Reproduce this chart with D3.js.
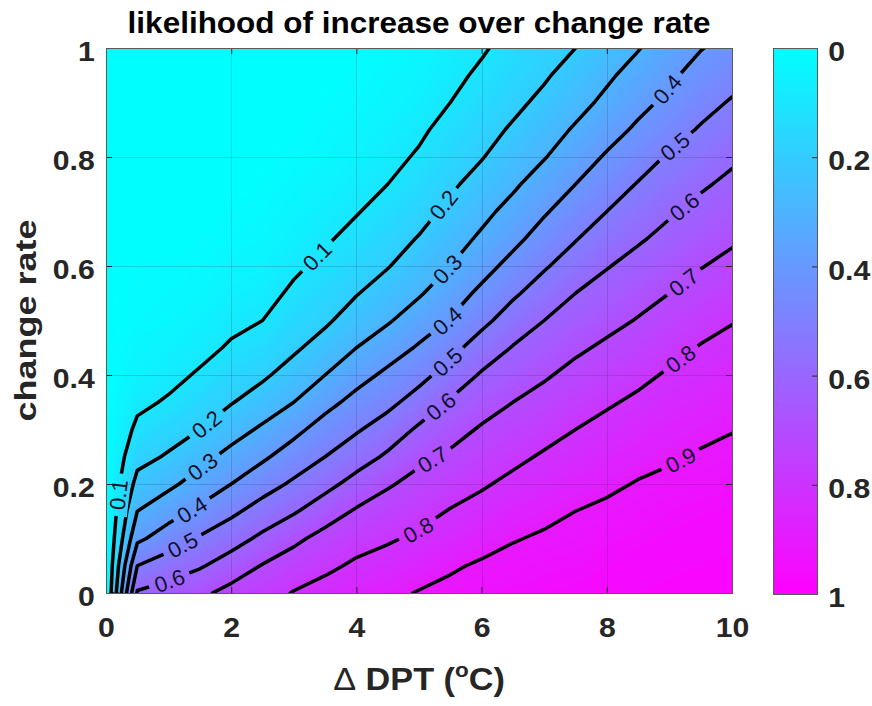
<!DOCTYPE html>
<meta charset="utf-8">
<title>likelihood of increase over change rate</title>
<style>
  body { margin: 0; background: #fff; }
  svg { display: block; font-family: "Liberation Sans", Arial, sans-serif; }
</style>
<body>
<script src="https://d3js.org/d3.v7.min.js"></script>
<script>
const width = 872;
const height = 706;

// grid axes: ΔDPT columns, change-rate rows
const dptValues = [0, 0.5, 1, 1.5, 2, 2.5, 3, 3.5, 4, 4.5, 5, 5.5, 6, 6.5, 7, 7.5, 8, 8.5, 9, 9.5, 10];
const rateValues = [0, 0.05, 0.1, 0.15, 0.2, 0.25, 0.3, 0.35, 0.4, 0.45, 0.5,
                    0.55, 0.6, 0.65, 0.7, 0.75, 0.8, 0.85, 0.9, 0.95, 1];

// likelihood, one row per ΔDPT column, listed from change rate 0 up to 1
const likelihood = [
  [0,0,0,0,0,0,0,0,0,0,0,0,0,0,0,0,0,0,0,0,0],
  [0.61,0.50,0.38,0.30,0.23,0.17,0.12,0.08,0.05,0.035,0.02,0.015,0.01,0.005,0,0,0,0,0,0,0],
  [0.64,0.55,0.45,0.36,0.28,0.21,0.16,0.11,0.075,0.05,0.03,0.02,0.01,0.005,0,0,0,0,0,0,0],
  [0.68,0.59,0.51,0.42,0.34,0.27,0.20,0.155,0.11,0.075,0.05,0.03,0.02,0.01,0.005,0,0,0,0,0,0],
  [0.73,0.645,0.56,0.48,0.40,0.33,0.26,0.195,0.155,0.11,0.08,0.055,0.035,0.02,0.01,0.005,0,0,0,0,0],
  [0.76,0.705,0.62,0.54,0.46,0.385,0.315,0.245,0.185,0.14,0.10,0.07,0.045,0.03,0.02,0.01,0.005,0,0,0,0],
  [0.805,0.745,0.68,0.59,0.515,0.445,0.375,0.30,0.24,0.185,0.15,0.115,0.085,0.06,0.04,0.025,0.015,0.008,0.004,0,0],
  [0.835,0.78,0.73,0.655,0.57,0.50,0.44,0.37,0.30,0.24,0.185,0.155,0.12,0.09,0.065,0.045,0.03,0.02,0.01,0.005,0],
  [0.86,0.815,0.765,0.71,0.635,0.555,0.49,0.43,0.365,0.30,0.245,0.195,0.16,0.125,0.095,0.07,0.05,0.035,0.02,0.012,0.006],
  [0.88,0.835,0.79,0.745,0.69,0.615,0.545,0.475,0.42,0.355,0.29,0.245,0.195,0.165,0.13,0.10,0.075,0.055,0.04,0.028,0.018],
  [0.905,0.86,0.815,0.77,0.73,0.68,0.615,0.54,0.47,0.41,0.35,0.29,0.25,0.205,0.17,0.14,0.11,0.085,0.06,0.045,0.03],
  [0.92,0.89,0.845,0.805,0.76,0.715,0.665,0.61,0.54,0.47,0.405,0.355,0.30,0.26,0.22,0.185,0.155,0.13,0.10,0.078,0.06],
  [0.935,0.91,0.87,0.83,0.79,0.75,0.71,0.66,0.61,0.545,0.475,0.42,0.365,0.315,0.275,0.235,0.195,0.17,0.14,0.115,0.09],
  [0.945,0.925,0.895,0.86,0.82,0.78,0.74,0.70,0.65,0.605,0.545,0.485,0.43,0.375,0.33,0.285,0.25,0.21,0.18,0.155,0.13],
  [0.95,0.935,0.91,0.88,0.845,0.81,0.77,0.73,0.69,0.645,0.60,0.545,0.49,0.44,0.39,0.345,0.295,0.26,0.22,0.19,0.17],
  [0.955,0.94,0.92,0.90,0.865,0.835,0.80,0.76,0.725,0.685,0.64,0.60,0.545,0.495,0.45,0.40,0.355,0.31,0.27,0.235,0.20],
  [0.965,0.95,0.935,0.915,0.885,0.855,0.825,0.79,0.75,0.715,0.675,0.635,0.595,0.55,0.50,0.455,0.41,0.365,0.32,0.285,0.25],
  [0.97,0.96,0.945,0.93,0.905,0.875,0.845,0.815,0.78,0.745,0.705,0.67,0.63,0.59,0.55,0.505,0.46,0.415,0.375,0.335,0.295],
  [0.975,0.965,0.955,0.94,0.92,0.89,0.865,0.84,0.81,0.775,0.74,0.70,0.665,0.625,0.59,0.55,0.51,0.465,0.42,0.385,0.35],
  [0.978,0.97,0.96,0.948,0.93,0.908,0.882,0.856,0.83,0.805,0.77,0.733,0.696,0.66,0.625,0.588,0.548,0.508,0.47,0.433,0.396],
  [0.98,0.975,0.965,0.953,0.937,0.918,0.897,0.872,0.846,0.822,0.796,0.76,0.724,0.688,0.654,0.62,0.585,0.546,0.508,0.469,0.431]
];

const contourLevels = [0.1, 0.2, 0.3, 0.4, 0.5, 0.6, 0.7, 0.8, 0.9];
const xTicks = [0, 2, 4, 6, 8, 10];
const yTicks = [0, 0.2, 0.4, 0.6, 0.8, 1];
const barTicks = [0, 0.2, 0.4, 0.6, 0.8, 1];

// where the inline contour labels sit: [level, ΔDPT, change rate] (snapped onto the line)
const labelSpots = [
  [0.1, 3.39, 0.615], [0.1, 0.19, 0.18],
  [0.2, 5.42, 0.71], [0.2, 1.61, 0.31],
  [0.3, 5.45, 0.596], [0.3, 1.53, 0.233],
  [0.4, 8.98, 0.923], [0.4, 5.45, 0.50], [0.4, 1.39, 0.152],
  [0.5, 9.09, 0.818], [0.5, 5.45, 0.424], [0.5, 1.23, 0.088],
  [0.6, 9.25, 0.708], [0.6, 5.34, 0.345], [0.6, 1.02, 0.024],
  [0.7, 9.22, 0.57], [0.7, 5.21, 0.248],
  [0.8, 9.17, 0.433], [0.8, 4.98, 0.116],
  [0.9, 9.17, 0.244]
];

const plot = {left: 106, right: 732, top: 48, bottom: 593};
const ink = "#262626";

const svg = d3.select("body").append("svg")
  .attr("width", width)
  .attr("height", height);

const x = d3.scaleLinear().domain([0, 10]).range([plot.left, plot.right]);
const y = d3.scaleLinear().domain([0, 1]).range([plot.bottom, plot.top]);
const color = d3.scaleSequential(d3.interpolateRgb("#00ffff", "#ff00ff")).domain([0, 1]);

// row-major grid for d3.contours (row = change rate)
const nx = dptValues.length, ny = rateValues.length;
const grid = new Array(nx * ny);
for (let j = 0; j < ny; j++) {
  for (let i = 0; i < nx; i++) grid[j * nx + i] = likelihood[i][j];
}
const dStep = dptValues[1] - dptValues[0];
const rStep = rateValues[1] - rateValues[0];
// contour space puts sample i at i + 0.5
const gridPath = d3.geoPath(d3.geoTransform({
  point(cx, cy) {
    this.stream.point(x(dptValues[0] + (cx - 0.5) * dStep), y(rateValues[0] + (cy - 0.5) * rStep));
  }
}));

const defs = svg.append("defs");
defs.append("clipPath").attr("id", "plotClip")
  .append("rect")
  .attr("x", plot.left).attr("y", plot.top)
  .attr("width", plot.right - plot.left).attr("height", plot.bottom - plot.top);

// smooth shading: many thin filled bands
const fillLevels = d3.range(0, 1, 0.01);
svg.append("g")
  .attr("clip-path", "url(#plotClip)")
  .selectAll("path")
  .data(d3.contours().size([nx, ny]).thresholds(fillLevels)(grid))
  .join("path")
  .attr("d", gridPath)
  .attr("fill", d => color(d.value + 0.005));

// grid lines
const gridG = svg.append("g").attr("stroke", ink).attr("stroke-opacity", 0.18).attr("stroke-width", 1);
gridG.selectAll(".gx").data(xTicks.slice(1, -1)).join("line")
  .attr("x1", d => Math.round(x(d)) + 0.5).attr("x2", d => Math.round(x(d)) + 0.5)
  .attr("y1", plot.top).attr("y2", plot.bottom);
gridG.selectAll(".gy").data(yTicks.slice(1, -1)).join("line")
  .attr("y1", d => Math.round(y(d)) + 0.5).attr("y2", d => Math.round(y(d)) + 0.5)
  .attr("x1", plot.left).attr("x2", plot.right);

// contour lines, gapped under the labels with a mask
const mask = defs.append("mask").attr("id", "labelGaps")
  .attr("maskUnits", "userSpaceOnUse")
  .attr("x", 0).attr("y", 0).attr("width", width).attr("height", height);
mask.append("rect").attr("width", width).attr("height", height).attr("fill", "#fff");

const lineG = svg.append("g").attr("clip-path", "url(#plotClip)")
  .append("g").attr("mask", "url(#labelGaps)");
const lineSel = lineG.selectAll("path")
  .data(d3.contours().size([nx, ny]).thresholds(contourLevels)(grid))
  .join("path")
  .attr("d", gridPath)
  .attr("fill", "none")
  .attr("stroke", "#000")
  .attr("stroke-width", 3.5)
  .attr("stroke-linejoin", "round");

const samples = new Map();
lineSel.each(function(d) {
  const len = this.getTotalLength();
  const pts = [];
  for (let l = 0; l <= len; l += 1.5) {
    const p = this.getPointAtLength(l);
    pts.push([p.x, p.y]);
  }
  samples.set(d.value, pts);
});

const labelG = svg.append("g")
  .attr("font-size", 22)
  .attr("fill", "#10102a");
labelSpots.forEach(([level, dx, dy]) => {
  const pts = samples.get(level);
  const tx = x(dx), ty = y(dy);
  let best = -1, bestD = Infinity;
  pts.forEach((p, k) => {
    if (p[0] < plot.left + 2 || p[0] > plot.right - 2 || p[1] < plot.top + 2 || p[1] > plot.bottom - 2) return;
    const dd = (p[0] - tx) ** 2 + (p[1] - ty) ** 2;
    if (dd < bestD) { bestD = dd; best = k; }
  });
  const p = pts[best];
  const a0 = pts[Math.max(best - 4, 0)], a1 = pts[Math.min(best + 4, pts.length - 1)];
  let ang = Math.atan2(a1[1] - a0[1], a1[0] - a0[0]) * 180 / Math.PI;
  if (ang > 90) ang -= 180;
  if (ang <= -90) ang += 180;
  const tf = `translate(${p[0]},${p[1]}) rotate(${ang})`;
  const t = labelG.append("text")
    .attr("transform", tf)
    .attr("text-anchor", "middle")
    .attr("dy", "0.36em")
    .text(String(level));
  const w = t.node().getComputedTextLength();
  mask.append("rect")
    .attr("transform", tf)
    .attr("x", -w / 2 - 6).attr("y", -11)
    .attr("width", w + 12).attr("height", 22)
    .attr("fill", "#000");
});

// axes: ticks point inward, on all four sides
const tickFont = g => g.selectAll("text")
  .attr("font-size", 27).attr("font-weight", "bold").attr("fill", ink)
  .attr("transform", "scale(1.12,1)");

svg.append("g")
  .attr("transform", `translate(0,${plot.bottom})`)
  .call(d3.axisBottom(x).tickValues(xTicks).tickSize(-6).tickPadding(25).tickFormat(String))
  .call(g => g.select(".domain").remove())
  .call(g => g.selectAll("line").attr("stroke", ink))
  .call(tickFont);

svg.append("g")
  .attr("transform", `translate(${plot.left},0)`)
  .call(d3.axisLeft(y).tickValues(yTicks).tickSize(-6).tickPadding(10).tickFormat(String))
  .call(g => g.select(".domain").remove())
  .call(g => g.selectAll("line").attr("stroke", ink))
  .call(tickFont)
  .call(g => g.selectAll("text").attr("y", 4));

svg.append("g")
  .attr("transform", `translate(0,${plot.top})`)
  .call(d3.axisTop(x).tickValues(xTicks).tickSize(-6).tickFormat(""))
  .call(g => g.select(".domain").remove())
  .call(g => g.selectAll("line").attr("stroke", ink));

svg.append("g")
  .attr("transform", `translate(${plot.right},0)`)
  .call(d3.axisRight(y).tickValues(yTicks).tickSize(-6).tickFormat(""))
  .call(g => g.select(".domain").remove())
  .call(g => g.selectAll("line").attr("stroke", ink));

svg.append("rect")
  .attr("x", plot.left + 0.5).attr("y", plot.top + 0.5)
  .attr("width", plot.right - plot.left).attr("height", plot.bottom - plot.top)
  .attr("fill", "none").attr("stroke", "#5a5a5a").attr("stroke-width", 1);

// title and axis labels
svg.append("text")
  .attr("transform", `translate(${(plot.left + plot.right) / 2},33) scale(1.05,1)`)
  .attr("text-anchor", "middle")
  .attr("font-size", 30).attr("font-weight", "bold").attr("fill", "#000")
  .text("likelihood of increase over change rate");

const xlab = svg.append("text")
  .attr("transform", `translate(${(plot.left + plot.right) / 2},690) scale(1.07,1)`)
  .attr("text-anchor", "middle")
  .attr("font-size", 32).attr("font-weight", "bold").attr("fill", ink);
xlab.append("tspan").attr("font-weight", "normal").text("\u0394");
xlab.append("tspan").text(" DPT (");
xlab.append("tspan").attr("font-size", 21).attr("dy", -13).text("o");
xlab.append("tspan").attr("dy", 13).text("C)");

svg.append("text")
  .attr("transform", `translate(36,${(plot.top + plot.bottom) / 2}) rotate(-90) scale(1.2,1)`)
  .attr("text-anchor", "middle")
  .attr("font-size", 30).attr("font-weight", "bold").attr("fill", ink)
  .text("change rate");

// colorbar
const bar = {left: 773, right: 817, top: 48, bottom: 594};
const cb = d3.scaleLinear().domain([0, 1]).range([bar.top, bar.bottom]);
const grad = defs.append("linearGradient").attr("id", "barGrad")
  .attr("x1", 0).attr("y1", 0).attr("x2", 0).attr("y2", 1);
grad.selectAll("stop").data(d3.range(0, 1.0001, 0.1)).join("stop")
  .attr("offset", d => d)
  .attr("stop-color", d => color(d));
svg.append("rect")
  .attr("x", bar.left).attr("y", bar.top)
  .attr("width", bar.right - bar.left).attr("height", bar.bottom - bar.top)
  .attr("fill", "url(#barGrad)");
svg.append("g")
  .attr("transform", `translate(${bar.right},0)`)
  .call(d3.axisRight(cb).tickValues(barTicks).tickSize(-5).tickPadding(10).tickFormat(String))
  .call(g => g.select(".domain").remove())
  .call(g => g.selectAll("line").attr("stroke", ink))
  .call(tickFont)
  .call(g => g.selectAll("text").attr("y", 4));
svg.append("rect")
  .attr("x", bar.left + 0.5).attr("y", bar.top + 0.5)
  .attr("width", bar.right - bar.left).attr("height", bar.bottom - bar.top)
  .attr("fill", "none").attr("stroke", "#5a5a5a").attr("stroke-width", 1);
</script>
</body>
